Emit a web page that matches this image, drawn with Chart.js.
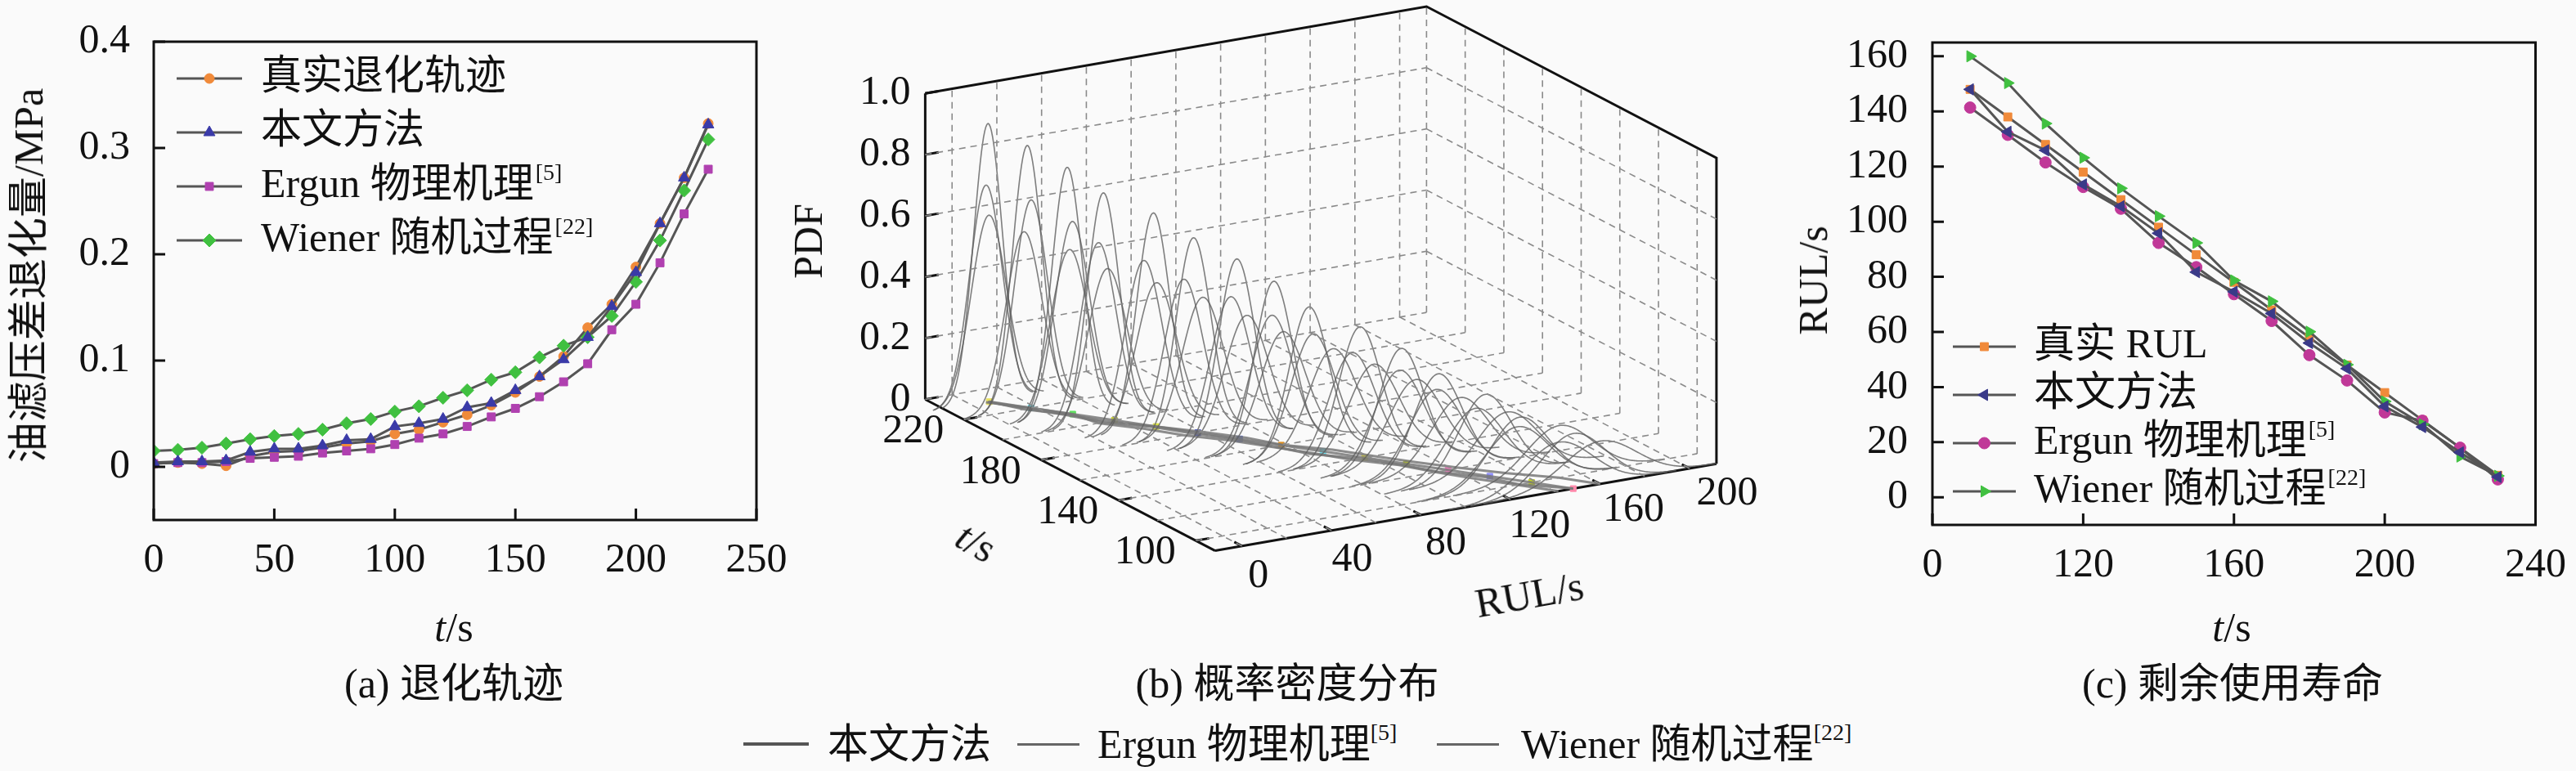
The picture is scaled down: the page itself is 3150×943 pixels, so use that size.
<!DOCTYPE html>
<html>
<head>
<meta charset="utf-8">
<script src="https://cdn.jsdelivr.net/npm/chart.js@4.4.1/dist/chart.umd.min.js"></script>
<style>
  body { margin: 0; background: #fafafa; width: 3150px; height: 943px; overflow: hidden; position: relative;
         font-family: "Liberation Serif", "Noto Sans CJK SC", serif; color: #111; }
  canvas { position: absolute; }
  .lbl { position: absolute; font-size: 50px; line-height: 1; white-space: nowrap; transform: translate(-50%, -50%); }
  .rot { transform: translate(-50%, -50%) rotate(-90deg); }
  .leg { position: absolute; font-size: 50px; line-height: 1; white-space: nowrap; transform: translateY(-50%); }
  .bar { position: absolute; height: 3px; background: #666; }
  sup { font-size: 28px; vertical-align: top; position: relative; top: -3px; }
</style>
</head>
<body>

<canvas id="cA" width="980" height="720" style="left:0;top:0;width:980px;height:720px"></canvas>
<canvas id="cB" width="1240" height="780" style="left:960px;top:0;width:1240px;height:780px"></canvas>
<canvas id="cC" width="1050" height="720" style="left:2100px;top:0;width:1050px;height:720px"></canvas>

<div class="lbl rot" style="left:35px;top:337px">油滤压差退化量/MPa</div>
<div class="lbl" style="left:555px;top:767px"><i>t</i>/s</div>
<div class="lbl" style="left:555px;top:836px">(a) 退化轨迹</div>

<div class="lbl rot" style="left:988px;top:295px">PDF</div>
<div class="lbl" style="left:1194px;top:663px;transform:translate(-50%,-50%) rotate(30deg)"><i>t</i>/s</div>
<div class="lbl" style="left:1870px;top:727px;transform:translate(-50%,-50%) rotate(-10deg)">RUL/s</div>
<div class="lbl" style="left:1574px;top:836px">(b) 概率密度分布</div>

<div class="lbl rot" style="left:2217px;top:343px">RUL/s</div>
<div class="lbl" style="left:2729px;top:767px"><i>t</i>/s</div>
<div class="lbl" style="left:2730px;top:836px">(c) 剩余使用寿命</div>

<div class="bar" style="left:909px;top:908px;width:80px;height:4px;background:#555"></div>
<div class="leg" style="left:1012px;top:910px">本文方法</div>
<div class="bar" style="left:1244px;top:909px;width:76px"></div>
<div class="leg" style="left:1342px;top:910px">Ergun 物理机理<sup>[5]</sup></div>
<div class="bar" style="left:1757px;top:909px;width:76px"></div>
<div class="leg" style="left:1860px;top:910px">Wiener 随机过程<sup>[22]</sup></div>

<script>
const fam = "'Liberation Serif', 'Noto Sans CJK SC', serif";

// (a) 退化轨迹
const tA = [0, 10, 20, 30, 40, 50, 60, 70, 80, 90, 100, 110, 120, 130, 140, 150, 160, 170, 180, 190, 200, 210, 220, 230];
const realA = [0.003, 0.004, 0.003, 0.001, 0.010, 0.014, 0.015, 0.018, 0.022, 0.024, 0.031, 0.035, 0.042, 0.049, 0.058, 0.070, 0.085, 0.104, 0.131, 0.153, 0.188, 0.229, 0.272, 0.323];
const oursA = [0.004, 0.005, 0.005, 0.006, 0.014, 0.017, 0.017, 0.020, 0.025, 0.026, 0.038, 0.041, 0.045, 0.056, 0.060, 0.072, 0.085, 0.101, 0.122, 0.151, 0.183, 0.229, 0.272, 0.322];
const ergunA = [0.003, 0.004, 0.004, 0.005, 0.008, 0.009, 0.010, 0.013, 0.015, 0.017, 0.021, 0.027, 0.031, 0.038, 0.047, 0.055, 0.066, 0.080, 0.097, 0.129, 0.153, 0.192, 0.238, 0.280];
const wienerA = [0.015, 0.016, 0.018, 0.022, 0.026, 0.029, 0.031, 0.035, 0.041, 0.045, 0.052, 0.057, 0.065, 0.072, 0.082, 0.089, 0.103, 0.114, 0.122, 0.142, 0.174, 0.213, 0.260, 0.308];
const ticksAX = [0, 50, 100, 150, 200, 250];
const ticksAY = [0, 0.1, 0.2, 0.3, 0.4];
const labelsAY = ['0', '0.1', '0.2', '0.3', '0.4'];

// (c) 剩余使用寿命
const tC = [90, 100, 110, 120, 130, 140, 150, 160, 170, 180, 190, 200, 210, 220, 230];
const realC = [148, 138, 128, 118, 108, 98, 88, 78, 68, 58, 48, 38, 28, 18, 8];
const oursC = [148, 132.6, 125.9, 113.5, 105.6, 95.8, 81.7, 74.6, 66.7, 56, 46.7, 33, 25.5, 16.3, 7.4];
const ergunC = [141.4, 131.5, 121.5, 112.6, 104.7, 92.3, 83.5, 73.7, 64, 51.6, 42.4, 30.8, 27.8, 18, 6.5];
const wienerC = [160, 150.3, 135.6, 123.2, 112.1, 102, 92.3, 78.7, 71.1, 60.1, 48.1, 34.8, 26.5, 14.8, 7.8];
const ticksCX = [80, 120, 160, 200, 240];
const labelsCX = ['0', '120', '160', '200', '240'];
const ticksCY = [0, 20, 40, 60, 80, 100, 120, 140, 160];

// (b) 概率密度分布: peak height of each predicted RUL density, per t in tC
const peakOurs = [0.18, 0.22, 0.27, 0.32, 0.38, 0.43, 0.48, 0.54, 0.59, 0.64, 0.70, 0.75, 0.81, 0.86, 0.91];
const peakErgun = [0.16, 0.19, 0.23, 0.27, 0.31, 0.35, 0.39, 0.43, 0.47, 0.51, 0.55, 0.59, 0.63, 0.68, 0.71];
const peakWiener = [0.14, 0.17, 0.20, 0.23, 0.27, 0.30, 0.33, 0.37, 0.40, 0.44, 0.47, 0.50, 0.54, 0.58, 0.61];
const spreadK = [6.1, 6.1, 6.1];
const tRangeB = [90, 240];
const rRangeB = [-12, 212];
const ticksBT = [100, 140, 180, 220];
const ticksBR = [0, 40, 80, 120, 160, 200];
const ticksBP = [0, 0.2, 0.4, 0.6, 0.8, 1.0];
const labelsBP = ['0', '0.2', '0.4', '0.6', '0.8', '1.0'];
const floorColors = ['#ff88aa', '#c8d820', '#9090ff', '#ff80c8', '#c0d020', '#e8e040', '#70e0f0', '#e09020', '#4060e0', '#3040c0', '#d8e040', '#c8d030', '#60e060', '#70e0f0', '#e8e060'];

const xy = (xs, ys) => xs.map((x, i) => ({ x: x, y: ys[i] }));

function series(label, xs, ys, color, style, radius, order, rot) {
  return {
    label: label, data: xy(xs, ys), order: order,
    borderColor: '#555', borderWidth: 3,
    pointStyle: style, pointRotation: rot || 0, pointRadius: radius,
    pointBackgroundColor: color, pointBorderColor: color, pointBorderWidth: 1,
    tension: 0
  };
}

const frameTicks = {
  id: 'frameTicks',
  afterDatasetsDraw(chart) {
    const { ctx, chartArea: a, scales: { x, y } } = chart;
    ctx.save();
    ctx.strokeStyle = '#111';
    ctx.lineWidth = 3;
    ctx.strokeRect(a.left, a.top, a.right - a.left, a.bottom - a.top);
    ctx.beginPath();
    x.ticks.forEach(tk => { const p = x.getPixelForValue(tk.value); ctx.moveTo(p, a.bottom); ctx.lineTo(p, a.bottom - 14); });
    y.ticks.forEach(tk => { const p = y.getPixelForValue(tk.value); ctx.moveTo(a.left, p); ctx.lineTo(a.left + 14, p); });
    ctx.stroke();
    ctx.restore();
  }
};

const innerLegend = {
  id: 'innerLegend',
  afterDraw(chart, args, o) {
    const ctx = chart.ctx;
    ctx.save();
    chart.data.datasets.forEach((ds, i) => {
      const y = o.y + i * o.dy;
      ctx.strokeStyle = ds.borderColor;
      ctx.lineWidth = ds.borderWidth;
      ctx.beginPath();
      ctx.moveTo(o.x, y);
      ctx.lineTo(o.x + o.len, y);
      ctx.stroke();
      ctx.fillStyle = ds.pointBackgroundColor;
      ctx.strokeStyle = ds.pointBorderColor;
      ctx.lineWidth = 1;
      Chart.helpers.drawPoint(ctx, { pointStyle: ds.pointStyle, radius: ds.pointRadius, rotation: ds.pointRotation, borderWidth: 1 }, o.x + o.len / 2, y);
      ctx.fillStyle = '#111';
      ctx.font = '50px ' + fam;
      ctx.textAlign = 'left';
      ctx.textBaseline = 'middle';
      ctx.fillText(ds.label, o.tx, y);
      if (o.refs[i]) {
        const w = ctx.measureText(ds.label).width;
        ctx.font = '28px ' + fam;
        ctx.fillText(o.refs[i], o.tx + w + 2, y - 15);
      }
    });
    ctx.restore();
  }
};

function axisOpts(min, max, ticks, labels, padding, fit) {
  return {
    type: 'linear', min: min, max: max,
    afterBuildTicks: s => { s.ticks = ticks.map(v => ({ value: v })); },
    afterFit: fit,
    grid: { display: false },
    border: { display: false },
    ticks: {
      font: { family: fam, size: 50 }, color: '#111', padding: padding,
      autoSkip: false, maxRotation: 0,
      callback: (v, i) => labels[i]
    }
  };
}

// (a)
new Chart(document.getElementById('cA'), {
  type: 'line',
  data: {
    datasets: [
      series('真实退化轨迹', tA, realA, '#f08a3a', 'circle', 6, 4),
      series('本文方法', tA, oursA, '#3a3aa8', 'triangle', 8, 1),
      series('Ergun 物理机理', tA, ergunA, '#b040b0', 'rect', 7, 3),
      series('Wiener 随机过程', tA, wienerA, '#40c040', 'rectRot', 8, 2)
    ]
  },
  options: {
    responsive: false, animation: false, devicePixelRatio: 1,
    layout: { padding: { top: 41, right: 55, left: 0, bottom: 0 } },
    plugins: {
      legend: { display: false }, tooltip: { enabled: false },
      innerLegend: { x: 216, len: 80, tx: 319, y: 96, dy: 66, refs: ['', '', '[5]', '[22]'] }
    },
    scales: {
      x: axisOpts(0, 250, ticksAX, ticksAX.map(String), 12, s => { s.height = 84; }),
      y: axisOpts(-0.05, 0.4, ticksAY, labelsAY, 21, s => { s.width = 188; })
    }
  },
  plugins: [frameTicks, innerLegend]
});

// (c)
new Chart(document.getElementById('cC'), {
  type: 'line',
  data: {
    datasets: [
      series('真实 RUL', tC, realC, '#f08a3a', 'rect', 7, 4),
      series('本文方法', tC, oursC, '#3a3a88', 'triangle', 8, 1, -90),
      series('Ergun 物理机理', tC, ergunC, '#c03898', 'circle', 7, 3),
      series('Wiener 随机过程', tC, wienerC, '#40c040', 'triangle', 8, 2, 90)
    ]
  },
  options: {
    responsive: false, animation: false, devicePixelRatio: 1,
    layout: { padding: { top: 48, right: 49, left: 0, bottom: 0 } },
    plugins: {
      legend: { display: false }, tooltip: { enabled: false },
      innerLegend: { x: 288, len: 77, tx: 387, y: 424, dy: 59, refs: ['', '', '[5]', '[22]'] }
    },
    scales: {
      x: axisOpts(80, 240, ticksCX, labelsCX, 12, s => { s.height = 78; }),
      y: axisOpts(-10, 165, ticksCY, ticksCY.map(String), 22, s => { s.width = 263; })
    }
  },
  plugins: [frameTicks, innerLegend]
});

// (b) 3D waterfall, projected onto a flat scatter chart
const box = { ax: 1127, ay: 490, abx: 358, aby: 188, bcx: 619, bcy: -108, h: 380 };

function proj(t, r, p) {
  const u = (tRangeB[1] - t) / (tRangeB[1] - tRangeB[0]);
  const v = (r - rRangeB[0]) / (rRangeB[1] - rRangeB[0]);
  return { x: box.ax + u * box.abx + v * box.bcx, y: box.ay + u * box.aby + v * box.bcy - p * box.h };
}

const bSets = [];
function seg(pts, color, width, dash) {
  bSets.push({ data: pts, showLine: true, borderColor: color, borderWidth: width, borderDash: dash || [], pointRadius: 0, tension: 0 });
}
const gridColor = '#8a8a8a';
const dashed = [8, 6];
const tLo = tRangeB[0], tHi = tRangeB[1], rLo = rRangeB[0], rHi = rRangeB[1];

// floor grid
for (let r = 0; r <= 200; r += 20) seg([proj(tLo, r, 0), proj(tHi, r, 0)], gridColor, 1.6, dashed);
for (let t = 100; t <= 220; t += 20) seg([proj(t, rLo, 0), proj(t, rHi, 0)], gridColor, 1.6, dashed);
// back wall (t = tHi)
for (let r = 0; r <= 200; r += 20) seg([proj(tHi, r, 0), proj(tHi, r, 1)], gridColor, 1.6, dashed);
for (let p = 0; p < 1; p += 0.2) seg([proj(tHi, rLo, p), proj(tHi, rHi, p)], gridColor, 1.6, dashed);
// right wall (r = rHi)
for (let t = 100; t <= 220; t += 20) seg([proj(t, rHi, 0), proj(t, rHi, 1)], gridColor, 1.6, dashed);
for (let p = 0.2; p < 1; p += 0.2) seg([proj(tLo, rHi, p), proj(tHi, rHi, p)], gridColor, 1.6, dashed);
seg([proj(tHi, rHi, 0), proj(tHi, rHi, 1)], gridColor, 1.6, dashed);

// density curves
const peaks = [peakOurs, peakErgun, peakWiener];
const means = [oursC, ergunC, wienerC];
peaks.forEach((pk, m) => {
  tC.forEach((t, i) => {
    const mu = means[m][i], s = spreadK[m] / Math.sqrt(pk[i]), pts = [];
    for (let r = mu - 3.2 * s; r <= mu + 3.2 * s + 0.01; r += 0.5) {
      pts.push(proj(t, r, pk[i] * Math.exp(-0.5 * ((r - mu) / s) ** 2)));
    }
    seg(pts, 'rgba(95,95,95,0.8)', 1.6);
  });
});

// RUL trajectories on the floor
[realC, oursC, ergunC, wienerC].forEach(arr => seg(tC.map((t, i) => proj(t, arr[i], 0)), 'rgba(120,120,120,0.85)', 3));
bSets.push({
  data: tC.map((t, i) => proj(t, realC[i], 0)), showLine: false,
  pointStyle: 'rect', pointRadius: 5, pointBackgroundColor: floorColors, pointBorderColor: floorColors
});

// axes and box edges
const edge = '#111';
seg([proj(tHi, rLo, 0), proj(tLo, rLo, 0)], edge, 3);
seg([proj(tLo, rLo, 0), proj(tLo, rHi, 0)], edge, 3);
seg([proj(tHi, rLo, 0), proj(tHi, rLo, 1)], edge, 3);
seg([proj(tHi, rLo, 1), proj(tHi, rHi, 1), proj(tLo, rHi, 1), proj(tLo, rHi, 0)], edge, 3);
ticksBT.forEach(t => seg([proj(t, rLo, 0), proj(t, rLo + 6, 0)], edge, 3));
ticksBR.forEach(r => seg([proj(tLo, r, 0), proj(tLo + 4, r, 0)], edge, 3));
ticksBP.forEach(p => seg([proj(tHi, rLo, p), proj(tHi, rLo + 6, p)], edge, 3));

const labels3d = {
  id: 'labels3d',
  afterDraw(chart) {
    const { ctx, scales: { x, y } } = chart;
    const px = q => ({ x: x.getPixelForValue(q.x), y: y.getPixelForValue(q.y) });
    ctx.save();
    ctx.fillStyle = '#111';
    ctx.font = '50px ' + fam;
    ctx.textBaseline = 'middle';
    ctx.textAlign = 'right';
    ticksBP.forEach((p, i) => { const q = px(proj(tHi, rLo, p)); ctx.fillText(labelsBP[i], q.x - 18, q.y); });
    ctx.textAlign = 'center';
    ticksBT.forEach(t => { const q = px(proj(t, rLo, 0)); ctx.fillText(String(t), q.x - 62, q.y + 15); });
    ticksBR.forEach(r => { const q = px(proj(tLo, r, 0)); ctx.fillText(String(r), q.x + 20 + r * 0.13, q.y + 37 - r * 0.03); });
    ctx.restore();
  }
};

new Chart(document.getElementById('cB'), {
  type: 'scatter',
  data: { datasets: bSets },
  options: {
    responsive: false, animation: false, devicePixelRatio: 1,
    layout: { padding: 0 },
    plugins: { legend: { display: false }, tooltip: { enabled: false } },
    scales: {
      x: { type: 'linear', min: 960, max: 2200, display: false },
      y: { type: 'linear', min: 0, max: 780, reverse: true, display: false }
    }
  },
  plugins: [labels3d]
});
</script>
</body>
</html>
